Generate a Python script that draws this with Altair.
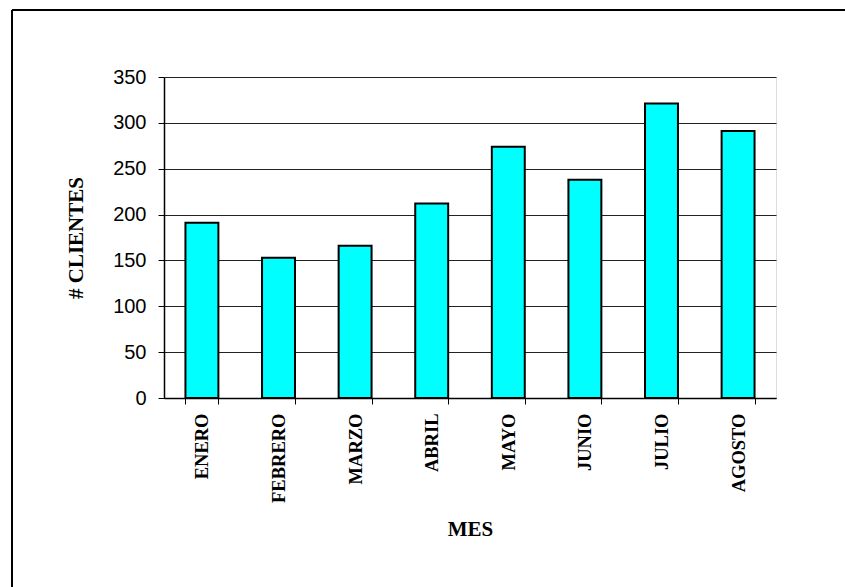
import altair as alt
import pandas as pd

meses = ["ENERO", "FEBRERO", "MARZO", "ABRIL", "MAYO", "JUNIO", "JULIO", "AGOSTO"]
clientes = [191, 153, 166, 212, 274, 238, 321, 291]

df = pd.DataFrame({"MES": meses, "CLIENTES": clientes})

bars = alt.Chart(df).mark_bar(
    color="#00FFFF", stroke="#000000", strokeWidth=2
).encode(
    x=alt.X("MES:N", sort=meses,
            scale=alt.Scale(paddingInner=0.57, paddingOuter=0.28),
            axis=alt.Axis(title="MES", labelAngle=270, tickBand="extent",
                          labelFont="Liberation Serif", labelFontSize=18.5,
                          labelFontWeight="bold", labelColor="#000000",
                          labelPadding=9, tickSize=6, tickColor="#000000",
                          domainColor="#000000", domainWidth=1.5,
                          titleFont="Liberation Serif", titleFontSize=21,
                          titleFontWeight="bold", titleColor="#000000",
                          titlePadding=16, grid=False)),
    y=alt.Y("CLIENTES:Q",
            scale=alt.Scale(domain=[0, 350], nice=False),
            axis=alt.Axis(title="# CLIENTES", values=list(range(0, 351, 50)),
                          labelFont="Liberation Sans", labelFontSize=20,
                          labelColor="#000000", labelPadding=12,
                          tickSize=6, tickColor="#000000",
                          domainColor="#000000", domainWidth=1.5,
                          gridColor="#222222", gridWidth=1.2,
                          titleFont="Liberation Serif", titleFontSize=21,
                          titleFontWeight="bold", titleColor="#000000",
                          titlePadding=26)),
)

frame_df = pd.DataFrame({"k": [0]})
left_line = alt.Chart(frame_df).mark_rule(color="#000000", strokeWidth=2).encode(
    x=alt.value(-152), y=alt.value(-67), y2=alt.value(520)
)
top_line = alt.Chart(frame_df).mark_rule(color="#000000", strokeWidth=2).encode(
    x=alt.value(-152), x2=alt.value(690), y=alt.value(-67)
)

chart = alt.layer(bars, left_line, top_line).properties(
    width=612, height=321,
    autosize=alt.AutoSizeParams(type="none"),
    padding={"left": 164, "top": 77, "right": 69, "bottom": 189},
).configure_view(stroke="#808080", strokeWidth=1.5).configure(background="#ffffff")

chart.save("out.html", embed_options={"renderer": "svg", "actions": False})
